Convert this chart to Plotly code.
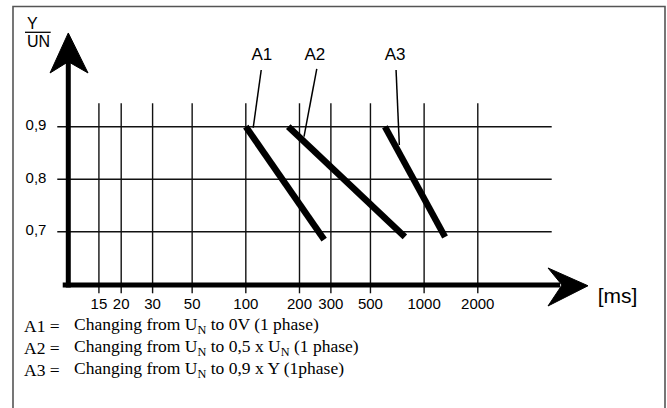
import plotly.graph_objects as go

# ---- data ----
x_ticks = [15, 20, 30, 50, 100, 200, 300, 500, 1000, 2000]
x_tick_labels = ["15", "20", "30", "50", "100", "200", "300", "500", "1000", "2000"]
y_ticks = [0.7, 0.8, 0.9]
y_tick_labels = ["0,7", "0,8", "0,9"]

a1_x = [100, 275]
a1_y = [0.90, 0.685]
a2_x = [173, 780]
a2_y = [0.90, 0.69]
a3_x = [603, 1310]
a3_y = [0.90, 0.69]

series_names = ["A1", "A2", "A3"]
leader_x = [[122, 110], [250, 212], [696, 726]]
leader_y = [[1.008, 0.898], [1.010, 0.881], [1.008, 0.865]]
label_x = [123, 244, 687]
label_y = 1.036

legend_lines = [
    ("A1 =", "Changing from U<sub>N</sub> to 0V (1 phase)"),
    ("A2 =", "Changing from U<sub>N</sub> to 0,5 x U<sub>N</sub> (1 phase)"),
    ("A3 =", "Changing from U<sub>N</sub> to 0,9 x Y (1phase)"),
]

# ---- geometry of the drawing (data units) ----
X_MIN_LOG, X_MAX_LOG = 0.6213, 4.3622
Y_MIN, Y_MAX = 0.3642, 1.1413
AX_X = 10.1          # position of the y axis (ms)
AX_Y = 0.5985        # position of the x axis
GRID_TOP = 0.9446
TICK_BOTTOM = 0.5827
HGRID_LEFT, HGRID_RIGHT = 8.76, 5195

fig = go.Figure()

# vertical grid lines
vx, vy = [], []
for t in x_ticks:
    vx += [t, t, None]
    vy += [TICK_BOTTOM, GRID_TOP, None]
fig.add_trace(go.Scatter(x=vx, y=vy, mode="lines",
                         line=dict(color="#111", width=1.4), hoverinfo="skip"))
# horizontal grid lines
hx, hy = [], []
for t in y_ticks:
    hx += [HGRID_LEFT, HGRID_RIGHT, None]
    hy += [t, t, None]
fig.add_trace(go.Scatter(x=hx, y=hy, mode="lines",
                         line=dict(color="#111", width=1.5), hoverinfo="skip"))

# axes (thick)
fig.add_trace(go.Scatter(x=[AX_X, AX_X], y=[AX_Y - 0.0048, 1.03], mode="lines",
                         line=dict(color="black", width=5), hoverinfo="skip"))
fig.add_trace(go.Scatter(x=[9.4, 5800], y=[AX_Y, AX_Y], mode="lines",
                         line=dict(color="black", width=5), hoverinfo="skip"))
# arrow heads
fig.add_trace(go.Scatter(x=[AX_X, 13.03, AX_X, 7.98, AX_X],
                         y=[1.0785, 1.0023, 1.0238, 1.0023, 1.0785],
                         mode="lines", fill="toself", fillcolor="black",
                         line=dict(color="black", width=1), hoverinfo="skip"))
fig.add_trace(go.Scatter(x=[8302, 4952, 5934, 4952, 8302],
                         y=[0.5970, 0.6309, AX_Y, 0.5585, 0.5970],
                         mode="lines", fill="toself", fillcolor="black",
                         line=dict(color="black", width=1), hoverinfo="skip"))

# data lines
for xs, ys in [(a1_x, a1_y), (a2_x, a2_y), (a3_x, a3_y)]:
    fig.add_trace(go.Scatter(x=xs, y=ys, mode="lines",
                             line=dict(color="black", width=6.5), hoverinfo="skip"))
# leader lines
for lx, ly in zip(leader_x, leader_y):
    fig.add_trace(go.Scatter(x=lx, y=ly, mode="lines",
                             line=dict(color="black", width=1.5), hoverinfo="skip"))
# series labels
fig.add_trace(go.Scatter(x=label_x, y=[label_y] * 3, mode="text", text=series_names,
                         textposition="middle center",
                         textfont=dict(family="Liberation Sans, Arial", size=17, color="black"),
                         hoverinfo="skip"))
# tick labels
fig.add_trace(go.Scatter(x=x_ticks, y=[0.5604] * len(x_ticks), mode="text",
                         text=x_tick_labels, textposition="middle center",
                         textfont=dict(family="Liberation Sans, Arial", size=15, color="black"),
                         hoverinfo="skip"))
fig.add_trace(go.Scatter(x=[6.66] * len(y_ticks), y=y_ticks, mode="text",
                         text=y_tick_labels, textposition="middle center",
                         textfont=dict(family="Liberation Sans, Arial", size=15, color="black"),
                         hoverinfo="skip"))
# unit label
fig.add_trace(go.Scatter(x=[12150], y=[0.5747], mode="text", text=["[ms]"],
                         textposition="middle center",
                         textfont=dict(family="Liberation Sans, Arial", size=21, color="black"),
                         hoverinfo="skip"))

W, H = 667, 408
def px(x):
    return x / W
def py(y):
    return 1 - y / H

shapes = [
    # frame
    dict(type="rect", xref="paper", yref="paper", x0=px(13), x1=px(665), y0=-0.05, y1=py(6.5),
         line=dict(color="#555", width=1.6)),
    # fraction bar of Y / UN
    dict(type="line", xref="paper", yref="paper", x0=px(25), x1=px(50.7), y0=py(32.3), y1=py(32.3),
         line=dict(color="black", width=1.3)),
]

annotations = [
    dict(xref="paper", yref="paper", x=px(32), y=py(23), text="Y", showarrow=False,
         font=dict(family="Liberation Sans, Arial", size=16, color="black"),
         xanchor="center", yanchor="middle"),
    dict(xref="paper", yref="paper", x=px(38), y=py(42), text="UN", showarrow=False,
         font=dict(family="Liberation Sans, Arial", size=16, color="black"),
         xanchor="center", yanchor="middle"),
]
for i, (lab, desc) in enumerate(legend_lines):
    yc = 325.5 + i * 22.0
    annotations.append(dict(xref="paper", yref="paper", x=px(22), y=py(yc), text=lab,
                            showarrow=False, xanchor="left", yanchor="middle",
                            font=dict(family="Liberation Serif, Times New Roman", size=17.5, color="black")))
    annotations.append(dict(xref="paper", yref="paper", x=px(72), y=py(yc), text=desc,
                            showarrow=False, xanchor="left", yanchor="middle",
                            font=dict(family="Liberation Serif, Times New Roman", size=17.5, color="black")))

fig.update_layout(
    width=W, height=H, margin=dict(l=0, r=0, t=0, b=0),
    paper_bgcolor="white", plot_bgcolor="white", showlegend=False,
    xaxis=dict(type="log", range=[X_MIN_LOG, X_MAX_LOG], visible=False, fixedrange=True),
    yaxis=dict(range=[Y_MIN, Y_MAX], visible=False, fixedrange=True),
    shapes=shapes, annotations=annotations,
)

fig.write_html("out.html", config={"displayModeBar": False},
               post_script="document.body.style.margin='0';")
